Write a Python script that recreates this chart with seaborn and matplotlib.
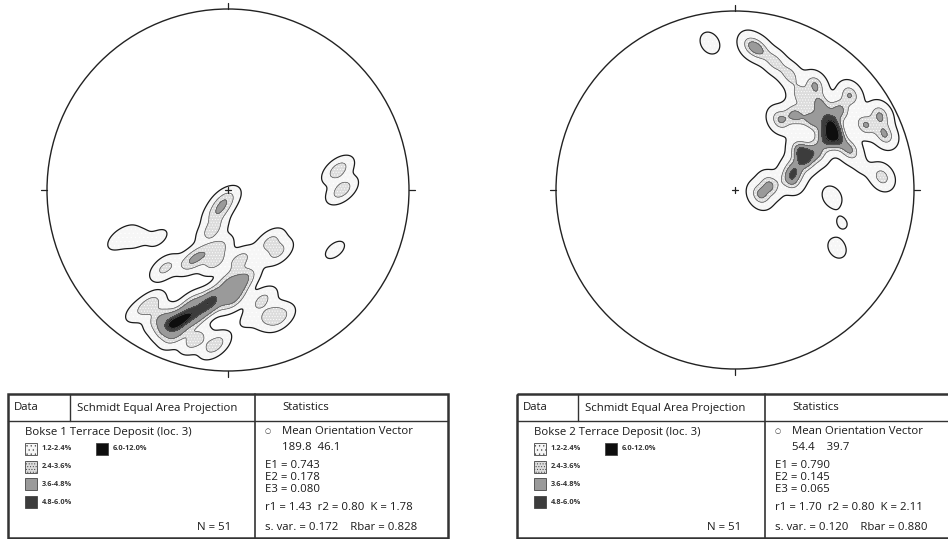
import numpy as np
import pandas as pd
import matplotlib
matplotlib.use("Agg")
import matplotlib.pyplot as plt
import seaborn as sns
from matplotlib.patches import Circle, Rectangle
from matplotlib.lines import Line2D
from matplotlib.contour import ContourSet

sns.set_theme(style="white")
plt.rcParams['font.family'] = ['Open Sans', 'DejaVu Sans']
plt.rcParams['hatch.color'] = '#a0a0a0'
plt.rcParams['hatch.linewidth'] = 0.4

# ---------------- data (equal-area projection coordinates, unit circle) -------------
net1_x = [-0.331, -0.309, -0.265, -0.232, -0.182, -0.127, -0.099, -0.077, 0.000, 0.044,
          0.022, -0.376, -0.293, -0.182, -0.072, -0.431, 0.094, 0.188, 0.287, 0.232,
          -0.210, -0.155, -0.072, -0.055, -0.088, -0.055, -0.017, -0.348, 0.066, -0.200,
          0.232, 0.276, 0.608, 0.630,
          -0.608, -0.558, -0.497, -0.387, 0.591, -0.508, 0.122]
net1_y = [-0.751, -0.729, -0.729, -0.696, -0.707, -0.652, -0.597, -0.619, -0.508, -0.552,
          -0.608, -0.707, -0.801, -0.829, -0.856, -0.635, -0.486, -0.608, -0.707, -0.691,
          -0.398, -0.359, -0.398, -0.320, -0.221, -0.122, -0.055, -0.431, -0.387, -0.630,
          -0.287, -0.343, 0.110, 0.000,
          -0.276, -0.249, -0.271, -0.265, -0.331, -0.674, -0.707]
net1_w = [1, 1, 1, 1, 1, 1, 1, 1, 1, 1,
          1, 1, 1, 1, 1, 1, 1, 0.8, 0.8, 0.8,
          0.8, 0.8, 0.8, 0.8, 0.9, 0.9, 0.9, 0.8, 0.9, 1,
          0.8, 0.8, 1, 1,
          0.28, 0.28, 0.28, 0.28, 0.3, 0.3, 0.3]

net2_x = [0.547, 0.531, 0.564, 0.503, 0.453, 0.475, 0.430, 0.587, 0.391, 0.335,
          0.363, 0.307, 0.196, 0.140, 0.642, 0.726, 0.810, 0.838, 0.363, 0.307,
          0.223, 0.140, 0.084, 0.335, 0.251, 0.642, 0.447,
          0.821, 0.542, 0.709, 0.598, 0.570, -0.140]
net2_y = [0.335, 0.380, 0.291, 0.279, 0.212, 0.475, 0.391, 0.447, 0.168, 0.112,
          0.223, 0.056, 0.028, -0.028, 0.223, 0.363, 0.419, 0.307, 0.531, 0.642,
          0.715, 0.782, 0.810, 0.419, 0.391, 0.531, 0.587,
          0.073, -0.039, 0.128, -0.184, -0.324, 0.821]
net2_w = [1, 1, 1, 1, 1, 1, 1, 1, 1, 1,
          1, 1, 1, 1, 1, 1, 1, 1, 0.8, 0.8,
          0.8, 0.8, 0.8, 1, 1, 1, 1,
          0.9, 0.4, 0.2, 0.2, 0.35, 0.4]

iso_levels = [0.06, 0.36, 0.66, 0.87, 0.955, 1.0]
bw_factors = [0.32, 0.33]
band_labels = ["1.2-2.4%", "2.4-3.6%", "3.6-4.8%", "4.8-6.0%", "6.0-12.0%"]
band_colors = ["#f6f6f6", "#dcdcdc", "#9a9a9a", "#3c3c3c", "#0e0e0e"]
band_hatches = ["....", "......", None, None, None]

titles = ["Bokse 1 Terrace Deposit (loc. 3)", "Bokse 2 Terrace Deposit (loc. 3)"]
mean_vectors = ["189.8  46.1", "54.4    39.7"]
eigen_lines = [["E1 = 0.743", "E2 = 0.178", "E3 = 0.080"],
               ["E1 = 0.790", "E2 = 0.145", "E3 = 0.065"]]
r_lines = ["r1 = 1.43  r2 = 0.80  K = 1.78", "r1 = 1.70  r2 = 0.80  K = 2.11"]
var_lines = ["s. var. = 0.172    Rbar = 0.828", "s. var. = 0.120    Rbar = 0.880"]
n_labels = ["N = 51", "N = 51"]
headers = ["Data", "Schmidt Equal Area Projection", "Statistics"]

W, H = 948, 539
fig = plt.figure(figsize=(W / 100, H / 100), dpi=100)
fig.patch.set_facecolor("white")


def net(ax_box, xs, ys, ws, bw):
    l, t, r, b = ax_box
    ax = fig.add_axes([l / W, 1 - b / H, (r - l) / W, (b - t) / H])
    xa, ya, wa = np.asarray(xs, float), np.asarray(ys, float), np.asarray(ws, float)
    common = dict(x=xa, y=ya, weights=wa, bw_adjust=bw, gridsize=240, cut=2, ax=ax)
    n0 = len(ax.collections)
    sns.kdeplot(fill=True, levels=iso_levels,
                cmap=matplotlib.colors.ListedColormap(band_colors), **common)
    for c in ax.collections[n0:]:
        if isinstance(c, ContourSet):
            c.hatches = band_hatches
    sns.kdeplot(fill=False, levels=iso_levels[1:-1], colors="#555555",
                linewidths=0.5, **common)
    sns.kdeplot(fill=False, levels=iso_levels[:1], colors="#1a1a1a",
                linewidths=0.9, **common)
    ax.add_patch(Circle((0, 0), 1, fill=False, lw=1.0, ec="#222222", clip_on=False))
    for (x0, y0, x1, y1) in [(0, 1, 0, 1.035), (0, -1, 0, -1.035), (1, 0, 1.035, 0),
                             (-1, 0, -1.035, 0), (-0.018, 0, 0.018, 0), (0, -0.018, 0, 0.018)]:
        ax.add_line(Line2D([x0, x1], [y0, y1], lw=0.9, color="#222222", clip_on=False))
    ax.set_xlim(-1, 1)
    ax.set_ylim(-1, 1)
    ax.set_axis_off()
    return ax


net((47, 9, 409, 371), net1_x, net1_y, net1_w, bw_factors[0])
net((556, 11, 914, 369), net2_x, net2_y, net2_w, bw_factors[1])

# ---------------- tables (overlay in pixel coordinates) ----------------
ov = fig.add_axes([0, 0, 1, 1])
ov.set_xlim(0, W)
ov.set_ylim(H, 0)
ov.set_axis_off()
ov.patch.set_alpha(0)

txt = dict(color="#1a1a1a", fontsize=8.2, va="center", ha="left")
small = dict(color="#333333", fontsize=5.3, va="center", ha="left", fontweight="bold")


def table(x0, x1, xd, xs, i):
    y0, yh, y1 = 394, 421, 538
    ov.add_patch(Rectangle((x0, y0), x1 - x0, y1 - y0, fill=False, lw=1.8, ec="#333333", clip_on=False))
    ov.plot([x0, x1], [yh, yh], lw=1.0, color="#333333")
    ov.plot([xd, xd], [y0, yh], lw=1.0, color="#333333")
    ov.plot([xs, xs], [y0, y1], lw=1.2, color="#333333")
    ov.text(x0 + 6, 408, headers[0], **txt)
    ov.text(xd + 7, 408, headers[1], **txt)
    ov.text(xs + 27, 408, headers[2], **txt)
    ov.text(x0 + 17, 432, titles[i], **txt)
    bx = x0 + 17
    rows = [(bx, 449, 0), (bx, 467, 1), (bx, 484, 2), (bx, 502, 3), (bx + 71, 449, 4)]
    for (xx, yy, k) in rows:
        ov.add_patch(Rectangle((xx, yy - 6), 12, 12, fc=band_colors[k], ec="#444444", lw=0.6,
                               hatch=band_hatches[k]))
        ov.text(xx + 17, yy, band_labels[k], **small)
    ov.text(xs - 58, 528, n_labels[i], **txt)
    ov.text(xs + 10, 432, "\u25CB", color="#333333", fontsize=5, va="center", ha="left")
    ov.text(xs + 27, 432, "Mean Orientation Vector", **txt)
    ov.text(xs + 27, 447, mean_vectors[i], **txt)
    for j, s in enumerate(eigen_lines[i]):
        ov.text(xs + 10, 465 + 12.5 * j, s, **txt)
    ov.text(xs + 10, 508, r_lines[i], **txt)
    ov.text(xs + 10, 527, var_lines[i], **txt)


table(8, 448, 70, 255, 0)
table(517, 960, 578, 765, 1)

fig.savefig("out.png", dpi=100, facecolor="white")
